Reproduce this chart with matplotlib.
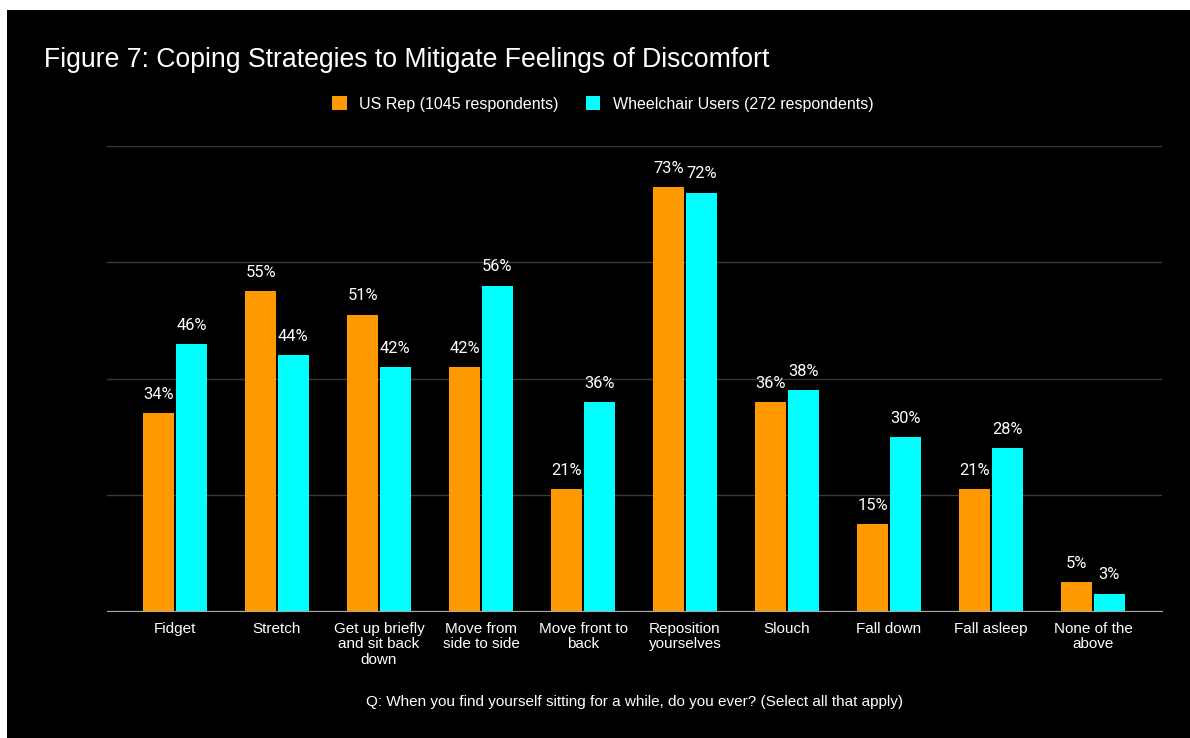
import matplotlib.pyplot as plt
import numpy as np
from matplotlib.patches import Rectangle

# Dados da pesquisa
categorias = ["Fidget", "Stretch", "Get up briefly\nand sit back\ndown",
              "Move from\nside to side", "Move front to\nback",
              "Reposition\nyourselves", "Slouch", "Fall down",
              "Fall asleep", "None of the\nabove"]
us_rep = [34, 55, 51, 42, 21, 73, 36, 15, 21, 5]
cadeirantes = [46, 44, 42, 56, 36, 72, 38, 30, 28, 3]
serie_nomes = ["US Rep (1045 respondents)", "Wheelchair Users (272 respondents)"]

laranja = "#ff9900"
ciano = "#00ffff"

fig = plt.figure(figsize=(11.9, 7.38), dpi=100, facecolor="white")
# fundo preto do painel
fig.add_artist(Rectangle((7 / 1190, 0), 1, 1 - 10 / 738, transform=fig.transFigure,
                         facecolor="black", edgecolor="none", zorder=-10))

ax = fig.add_axes([107 / 1190, 1 - 611 / 738, (1162 - 107) / 1190, (611 - 146) / 738])
ax.set_facecolor("black")

x = np.arange(len(categorias))
larg = 0.3
b1 = ax.bar(x - 0.16, us_rep, larg, color=laranja, label=serie_nomes[0], zorder=3)
b2 = ax.bar(x + 0.16, cadeirantes, larg, color=ciano, label=serie_nomes[1], zorder=3)

for barras, vals in ((b1, us_rep), (b2, cadeirantes)):
    for b, v in zip(barras, vals):
        ax.annotate(f"{v}%", (b.get_x() + b.get_width() / 2, v),
                    xytext=(0, 8), textcoords="offset points", ha="center", va="bottom",
                    color="white", fontsize=11.8, family="Roboto")

ax.set_xlim(-0.667, 9.676)
ax.set_ylim(0, 80)
ax.set_yticks([0, 20, 40, 60, 80])
ax.set_yticklabels([])
ax.tick_params(axis="y", length=0)
ax.grid(axis="y", color="#3a3a3a", linewidth=1, zorder=0)
for lado in ("top", "right", "left"):
    ax.spines[lado].set_visible(False)
ax.spines["bottom"].set_color("#aaaaaa")
ax.spines["bottom"].set_zorder(4)

ax.set_xticks(x)
ax.set_xticklabels(categorias, color="white", fontsize=11, family="Liberation Sans",
                   linespacing=1.12)
ax.tick_params(axis="x", length=0, pad=8)

ax.set_xlabel("Q: When you find yourself sitting for a while, do you ever? (Select all that apply)",
              color="white", fontsize=11, family="Liberation Sans", labelpad=20)

fig.text(44 / 1190, 1 - 60 / 738, "Figure 7: Coping Strategies to Mitigate Feelings of Discomfort",
         color="white", fontsize=19.2, family="Liberation Sans", va="center", ha="left")

fig.legend(handles=[b1, b2], loc="center", bbox_to_anchor=(603 / 1190, 1 - 104 / 738),
           ncol=2, frameon=False, handlelength=0.9, handleheight=0.9, handletextpad=0.8,
           columnspacing=1.7, prop={"family": "Liberation Sans", "size": 11.5}, labelcolor="white")

fig.savefig("out.png", dpi=100, facecolor=fig.get_facecolor())
